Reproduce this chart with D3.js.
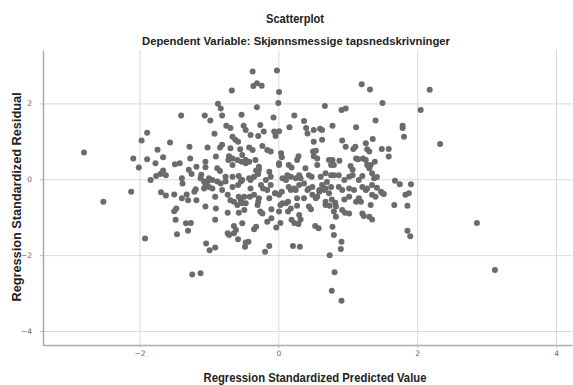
<!DOCTYPE html>
<html>
<head>
<meta charset="utf-8">
<script src="https://cdn.jsdelivr.net/npm/d3@7"></script>
<style>
  body { margin: 0; background: #fff; }
</style>
</head>
<body>
<div id="graph-container"></div>
<script>
// Regression standardized predicted value (x) and residual (y)
var predicted = [
  -2.80,-2.09,-2.01,-1.97,-1.89,-1.89,-1.84,-1.77,-1.76,-1.74,-1.70,-1.66,-1.66,-1.62,-1.56,-1.49,-1.42,-1.40,-1.39,-1.29,
  -1.28,-1.27,-1.25,-1.18,-1.11,-1.12,-1.06,-1.05,-1.05,-1.02,-1.02,-1.00,-0.98,-0.95,-0.92,-0.90,-0.87,-0.88,-0.88,-2.52,
  -2.12,-1.92,-1.69,-1.62,-1.50,-1.50,-1.47,-1.48,-1.46,-1.39,-1.32,-1.33,-1.30,-1.30,-1.26,-1.24,-1.18,-1.21,-1.19,-1.12,
  -1.05,-1.04,-0.99,-0.91,-0.91,-0.90,-0.91,-0.95,-1.00,-1.05,-0.37,-0.02,-0.36,-0.31,-0.24,-0.67,0.01,0.00,-0.31,-0.83,
  -0.81,-0.53,-0.07,0.23,0.37,0.67,0.91,0.97,1.20,1.32,1.40,0.78,1.12,-0.75,-0.69,-0.50,-0.47,-0.26,-0.21,-0.40,
  -0.29,-0.06,0.01,-0.04,0.16,0.40,0.42,0.51,0.60,0.63,0.51,0.63,-0.66,-0.62,-0.58,-0.81,-0.84,-0.69,-0.55,-0.42,
  -0.37,-0.23,-0.16,-0.11,0.04,0.05,0.29,0.27,0.50,0.54,0.92,0.97,1.11,1.08,1.26,1.28,1.31,1.36,-0.71,-0.66,
  -0.72,-0.59,-0.53,-0.47,-0.33,-0.28,-0.66,0.15,0.19,0.01,0.39,0.56,0.76,0.88,0.73,1.12,1.15,1.04,1.07,1.28,
  1.31,-0.84,-0.66,-0.57,-0.54,-0.42,-0.40,-0.32,-0.29,-0.13,-0.11,0.06,0.13,0.18,0.30,0.32,0.44,0.48,0.61,0.68,
  0.76,0.80,0.87,1.02,1.07,1.21,1.35,1.38,-0.76,-0.66,-0.58,-0.40,-0.25,-0.22,-0.11,0.01,0.05,0.15,0.18,0.25,
  0.30,0.44,0.49,0.63,0.68,0.76,0.59,0.87,1.02,1.21,1.26,1.35,-0.64,-0.59,-0.57,-0.54,-0.52,-0.73,-0.57,-0.49,
  -0.30,-0.26,-0.23,-0.41,-0.35,-0.29,-0.13,-0.10,-0.05,0.03,0.06,0.14,0.18,0.14,0.27,0.30,0.37,0.44,0.47,0.49,
  0.56,0.59,0.68,0.74,0.82,0.77,0.80,0.83,0.92,0.96,0.95,1.02,1.12,1.19,1.21,1.23,1.31,1.35,1.35,1.40,
  -0.73,-0.71,-0.64,-0.61,-0.64,-0.52,-0.58,-0.47,-0.43,-0.48,-0.35,-0.32,-0.16,-0.10,-0.03,0.03,-0.19,-0.13,0.19,0.23,
  0.29,0.32,0.21,0.31,0.53,0.58,0.78,0.80,0.91,0.90,0.74,0.81,0.77,0.91,2.18,1.50,2.05,1.79,1.79,1.81,
  2.33,1.49,1.59,1.59,1.39,1.42,1.68,1.75,1.91,1.42,1.48,1.52,1.50,1.83,1.88,1.67,1.86,1.86,1.90,2.86,
  3.12,-0.52,-0.47,-0.42,-0.28,0.01,0.51,0.56,0.78,0.80,1.22,1.26,1.33,-1.38,-1.07,-0.83,-0.76,-0.52,-0.35,-0.18,
  0.11,0.25,0.37,0.70,0.95,1.16,-1.07,-0.81,-0.73,-0.69,-0.49,-0.47,-0.28,-0.16,-0.04,0.11,0.01,0.23,0.27,0.42,
  0.54,0.66,0.73,0.68,0.83,0.92,1.02,1.09,1.16,1.28,1.33
];
var residual = [
  0.71,0.55,0.31,1.02,1.23,0.53,-0.02,0.42,0.09,0.78,0.14,0.58,0.23,0.11,0.97,0.40,0.42,1.68,0.03,0.25,
  0.86,0.55,0.14,0.33,0.12,0.03,1.68,0.46,0.32,0.84,-0.06,0.03,1.55,-0.02,1.20,0.60,1.99,-0.06,0.29,-0.59,
  -0.33,-1.56,-0.34,-0.43,-0.40,-0.84,-0.77,-1.07,-1.45,-0.50,-0.40,-1.16,-0.55,-1.36,-1.15,-2.51,-0.55,-0.33,-0.26,-2.48,
  -0.72,-1.69,-1.87,-1.80,-1.07,-0.77,-0.46,-0.24,-0.20,-0.15,2.84,2.87,2.46,2.53,2.47,2.34,2.30,2.01,1.90,1.87,
  1.68,1.70,1.63,1.68,1.54,1.93,1.83,1.87,2.51,2.37,1.55,1.41,1.37,1.41,1.35,1.41,1.30,1.43,1.26,1.17,
  1.14,1.26,1.27,1.14,1.37,1.35,1.21,1.30,1.33,1.30,0.99,1.04,1.12,1.04,0.99,0.91,0.84,0.82,0.79,0.84,
  0.77,0.88,0.77,0.73,0.69,0.58,0.61,0.51,0.73,0.75,1.02,0.86,0.86,0.80,0.95,0.79,0.73,1.06,0.61,0.55,
  0.51,0.51,0.46,0.42,0.51,0.25,0.38,0.38,0.31,0.38,0.29,0.38,0.38,0.49,0.51,0.55,0.53,0.35,0.25,0.38,
  0.29,0.22,0.07,0.09,-0.06,0.03,-0.02,0.23,0.14,0.20,0.07,0.03,0.11,0.07,0.11,0.03,0.11,0.07,0.07,0.16,
  0.11,0.11,0.11,0.07,0.11,0.09,0.16,0.03,-0.06,-0.20,-0.15,-0.24,-0.15,-0.24,-0.15,-0.41,-0.33,-0.20,-0.28,-0.28,
  -0.15,-0.24,-0.20,-0.15,-0.24,-0.20,-0.28,-0.20,-0.24,-0.20,-0.28,-0.15,-0.59,-0.68,-0.46,-0.55,-0.63,-0.88,-0.88,-0.81,
  -0.68,-0.85,-0.90,-0.46,-0.41,-0.59,-0.50,-0.79,-0.37,-0.68,-0.63,-0.59,-0.77,-0.85,-0.70,-0.94,-0.50,-0.72,-0.79,-0.41,
  -0.46,-0.33,-0.68,-0.70,-0.62,-0.53,-0.85,-0.99,-0.81,-0.88,-0.53,-0.90,-0.59,-0.59,-0.90,-0.97,-0.99,-1.06,-0.41,-0.46,
  -1.42,-1.47,-1.23,-1.34,-1.42,-1.16,-1.58,-1.67,-1.65,-1.78,-1.32,-1.25,-1.12,-1.03,-1.27,-1.15,-1.91,-1.76,-1.07,-1.15,
  -1.18,-1.06,-1.76,-1.78,-1.23,-1.29,-1.25,-1.47,-1.65,-1.84,-2.00,-2.45,-2.94,-3.20,2.36,2.01,1.83,1.41,1.35,1.12,
  0.93,0.80,0.80,0.60,0.46,0.06,-0.04,-0.13,-0.13,-0.22,-0.33,-0.39,-0.37,-0.41,-0.37,-0.68,-0.70,-1.36,-1.50,-1.15,
  -2.39,0.64,0.51,0.46,0.33,0.42,0.61,0.55,0.51,0.38,0.55,0.51,0.38,-0.11,-0.06,-0.11,0.07,-0.02,0.07,-0.02,
  -0.02,0.03,-0.11,-0.07,-0.02,-0.02,-0.24,-0.28,-0.41,-0.55,-0.46,-0.63,-0.50,-0.28,-0.37,-0.63,-0.85,-0.24,-0.50,-0.28,
  -0.50,-0.28,-0.37,-0.59,-0.72,-0.28,-0.46,-0.28,-0.50,-0.24,-0.68
];
var xTicks = [-2, 0, 2, 4];
var yTicks = [-4, -2, 0, 2];

var title = "Scatterplot";
var subtitle = "Dependent Variable: Skjønnsmessige tapsnedskrivninger";
var xLabel = "Regression Standardized Predicted Value";
var yLabel = "Regression Standardized Residual";

var points = predicted.map(function (d, i) { return { x: d, y: residual[i] }; });

var svgWidth = 573;
var svgHeight = 385;
var margin = { top: 50, right: 1, bottom: 40, left: 43 };
var chartWidth = svgWidth - margin.left - margin.right;
var chartHeight = svgHeight - margin.top - margin.bottom;

var svg = d3.select("#graph-container")
  .append("svg")
  .attr("width", svgWidth)
  .attr("height", svgHeight)
  .style("font-family", "'Liberation Sans', Arial, sans-serif");

// Titles (the original uses a condensed face, so squeeze to the measured widths)
svg.append("text")
  .attr("x", 295)
  .attr("y", 23)
  .attr("text-anchor", "middle")
  .attr("font-size", 12.5)
  .attr("font-weight", "bold")
  .attr("fill", "#222")
  .attr("textLength", 58)
  .attr("lengthAdjust", "spacingAndGlyphs")
  .text(title);

svg.append("text")
  .attr("x", 296)
  .attr("y", 45)
  .attr("text-anchor", "middle")
  .attr("font-size", 11.5)
  .attr("font-weight", "bold")
  .attr("fill", "#222")
  .attr("textLength", 308)
  .attr("lengthAdjust", "spacingAndGlyphs")
  .text(subtitle);

var chart = svg.append("g")
  .attr("transform", "translate(" + margin.left + "," + margin.top + ")");

var xScale = d3.scaleLinear().domain([-3.39, 4.23]).range([0, chartWidth]);
var yScale = d3.scaleLinear().domain([-4.37, 3.41]).range([chartHeight, 0]);

// Grid lines
chart.append("g")
  .attr("transform", "translate(0," + chartHeight + ")")
  .call(d3.axisBottom(xScale).tickValues(xTicks).tickSize(-chartHeight).tickFormat(""))
  .call(function (g) {
    g.select(".domain").remove();
    g.selectAll("line").attr("stroke", "#d9d9d9").attr("stroke-width", 1);
  });

chart.append("g")
  .call(d3.axisLeft(yScale).tickValues(yTicks).tickSize(-chartWidth).tickFormat(""))
  .call(function (g) {
    g.select(".domain").remove();
    g.selectAll("line").attr("stroke", "#d9d9d9").attr("stroke-width", 1);
  });

// Axes
chart.append("g")
  .attr("transform", "translate(0," + chartHeight + ")")
  .call(d3.axisBottom(xScale).tickValues(xTicks).tickSize(3).tickPadding(3).tickSizeOuter(0))
  .call(function (g) {
    g.select(".domain").attr("stroke", "#aaa").attr("stroke-width", 1.5);
    g.selectAll("line").attr("stroke", "#bbb");
    g.selectAll("text").attr("fill", "#666").attr("font-size", 7.5)
      .style("font-family", "'DejaVu Sans', sans-serif");
  });

chart.append("g")
  .call(d3.axisLeft(yScale).tickValues(yTicks).tickSize(3).tickPadding(8).tickSizeOuter(0))
  .call(function (g) {
    g.select(".domain").attr("stroke", "#aaa").attr("stroke-width", 1.5);
    g.selectAll("line").attr("stroke", "#bbb");
    g.selectAll("text").attr("fill", "#666").attr("font-size", 7.5)
      .style("font-family", "'DejaVu Sans', sans-serif");
  });

// Points
chart.selectAll("circle")
  .data(points)
  .enter()
  .append("circle")
  .attr("cx", function (d) { return xScale(d.x); })
  .attr("cy", function (d) { return yScale(d.y); })
  .attr("r", 3)
  .attr("fill", "#6b6b6b");

// Axis titles
svg.append("text")
  .attr("x", 315)
  .attr("y", 381.5)
  .attr("text-anchor", "middle")
  .attr("font-size", 13)
  .attr("font-weight", "bold")
  .attr("fill", "#222")
  .attr("textLength", 223)
  .attr("lengthAdjust", "spacingAndGlyphs")
  .text(xLabel);

svg.append("text")
  .attr("transform", "translate(21,197) rotate(-90)")
  .attr("text-anchor", "middle")
  .attr("font-size", 12)
  .attr("font-weight", "bold")
  .attr("fill", "#222")
  .attr("textLength", 209)
  .attr("lengthAdjust", "spacingAndGlyphs")
  .text(yLabel);
</script>
</body>
</html>
